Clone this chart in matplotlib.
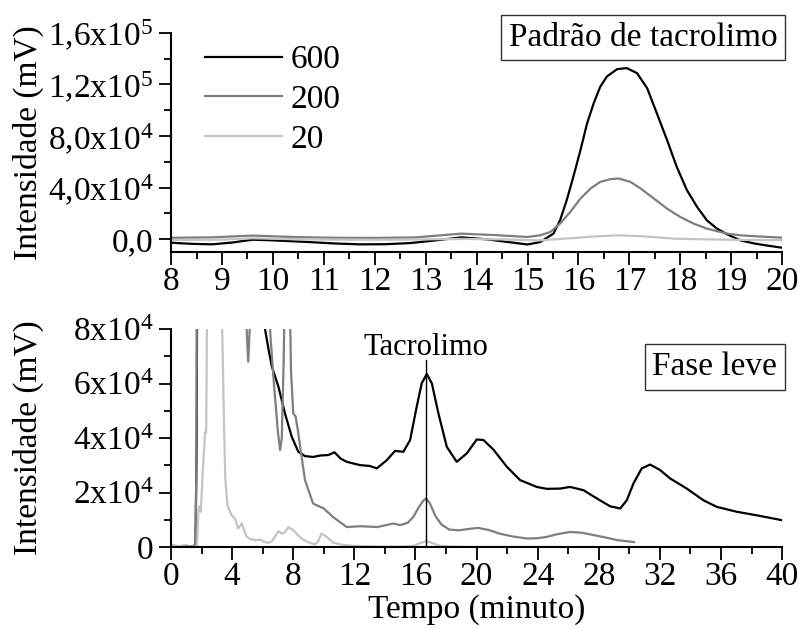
"""Chromatograms of tacrolimus: standard (top) and light phase (bottom)"""
import numpy as np
import matplotlib
matplotlib.use('Agg')
import matplotlib.pyplot as plt
from matplotlib.ticker import MultipleLocator

plt.rcParams['font.family'] = ['Liberation Serif', 'DejaVu Serif']
plt.rcParams['mathtext.default'] = 'regular'
plt.rcParams['font.size'] = 24

# --- top panel: standard (Padrão de tacrolimo), time in minutes, mV
std_t600 = [8, 8.4, 8.8, 9.2, 9.6, 10.0, 10.7, 11.2, 11.7, 12.2, 12.7, 13.2, 13.7,
            14.2, 14.7, 15.0, 15.25, 15.51, 15.64, 15.77, 15.9, 16.04, 16.17,
            16.3, 16.43, 16.56, 16.76, 16.95, 17.15, 17.35, 17.54, 17.74, 17.93,
            18.13, 18.33, 18.52, 18.72, 18.92, 19.18, 19.45, 19.7, 20]
std_y600 = [-2600, -3500, -3900, -2500, -300, -800, -2100, -3200, -3900, -3800,
            -2900, -800, 1500, 0, -2500, -4000, -2100, 4400, 14800, 30300, 48400,
            69100, 89800, 105400, 118300, 126100, 131800, 132600, 128700, 117000,
            97600, 76900, 56200, 38100, 25100, 14800, 8300, 3900, -800, -3200,
            -4800, -6500]
std_t200 = [8, 8.8, 9.6, 10.4, 11.2, 12.0, 12.8, 13.7, 14.4, 15.0, 15.25, 15.45,
            15.64, 15.84, 16.04, 16.24, 16.43, 16.63, 16.79, 17.02, 17.22, 17.48,
            17.74, 18.0, 18.26, 18.52, 18.92, 19.18, 19.5, 20]
std_y200 = [1200, 1500, 2900, 1800, 1200, 1100, 1500, 4400, 3200, 1800, 3100, 5700,
            12200, 21200, 31600, 39400, 44500, 46600, 47100, 44500, 39400, 31600,
            23800, 17300, 12200, 8300, 4400, 3100, 2300, 1300]
std_t20 = [8, 9, 9.6, 10.5, 11.5, 12.5, 13.7, 14.5, 15.25, 15.9, 16.3, 16.79, 17.3,
           17.87, 18.5, 19.3, 20]
std_y20 = [-500, -300, 800, 0, -300, -300, 300, -100, -800, 1000, 2200, 3100, 2300,
           500, 0, -500, -600]

# --- bottom panel: light phase (Fase leve)
lp_t600 = [0, 0.5, 1.0, 1.4, 1.6, 1.68, 1.72, 5.9, 6.15, 6.4, 6.6, 7.03, 7.46, 7.9,
           8.33, 8.77, 9.3, 9.75, 10.3, 10.7, 11.1, 11.5, 12.37, 13.0, 13.47,
           14.12, 14.66, 15.21, 15.65, 16.08, 16.41, 16.74, 17.07, 17.5, 18.05,
           18.7, 19.36, 20.01, 20.45, 21.1, 21.98, 22.85, 23.94, 24.6, 25.47, 26.12,
           27.0, 27.87, 28.74, 29.4, 29.83, 30.27, 30.81, 31.36, 32.01, 32.67,
           33.76, 34.85, 35.72, 37.03, 38.34, 40]
lp_y600 = [500, 400, 500, 300, 800, 40000, 120000, 120000, 80000, 72000, 66200,
           58800, 49000, 40500, 35000, 33400, 33100, 33600, 33800, 34800, 32500,
           31300, 30100, 29800, 28900, 31900, 35300, 35000, 39300, 51500, 60100,
           63500, 60100, 49100, 36800, 31300, 34400, 39500, 39300, 35800, 29500,
           24600, 22100, 21400, 21500, 22100, 20900, 17900, 15000, 14200, 17200,
           23400, 28900, 30300, 28300, 25200, 21500, 17200, 14800, 13000, 11700,
           9900]
lp_t200 = [0, 0.5, 1.0, 1.4, 1.6, 1.66, 1.7, 4.8, 4.95, 5.05, 5.15, 5.3, 6.3, 6.5,
           6.75, 7.0, 7.14, 7.25, 7.38, 7.5, 7.7, 7.85, 8.0, 8.15, 8.3, 8.45, 8.77,
           9.3, 10.0, 10.6, 11.5, 12.4, 13.5, 14.55, 15.0, 15.5, 15.86, 16.2, 16.5,
           16.7, 16.95, 17.3, 17.7, 18.2, 18.8, 19.5, 20.1, 20.8, 21.5, 22.4, 23.3,
           24.0, 24.6, 25.3, 26.1, 26.9, 27.7, 28.5, 29.2, 30.3]
lp_y200 = [500, 400, 300, 300, 800, 30000, 120000, 120000, 80000, 68000, 80000,
           120000, 120000, 78000, 58800, 42000, 35600, 40000, 70000, 120000,
           120000, 65000, 49000, 48000, 43000, 36800, 24600, 16000, 14200, 11100,
           7400, 7700, 7400, 8700, 8100, 9000, 11100, 14500, 17000, 17900, 16000,
           11500, 8300, 6500, 6200, 6700, 7100, 6300, 5000, 3900, 3200, 3300,
           3800, 4800, 5600, 5300, 4400, 3500, 2600, 1900]
lp_t20 = [0, 0.5, 1.0, 1.5, 1.7, 1.79, 1.85, 1.95, 2.1, 2.23, 2.3, 2.4, 3.25, 3.35,
          3.45, 3.55, 3.7, 3.97, 4.19, 4.3, 4.4, 4.63, 4.8, 4.95, 5.2, 5.5, 5.83,
          6.1, 6.37, 6.6, 6.8, 7.03, 7.25, 7.45, 7.68, 8.0, 8.3, 8.55, 8.9, 9.2,
          9.45, 9.65, 9.85, 10.2, 10.6, 11.2, 12.0, 13.0, 14.0, 15.0, 15.86, 16.3,
          16.7, 17.1, 17.6, 18.5, 20, 22, 24, 25.5]
lp_y20 = [500, 400, 300, 200, 500, 13600, 15000, 13000, 30000, 42300, 42000,
          120000, 120000, 80000, 50000, 25000, 15000, 11700, 10500, 8500, 6900,
          8700, 6000, 3800, 3000, 2600, 2800, 2000, 1600, 2200, 3800, 5900, 5000,
          5500, 7400, 6200, 4500, 3200, 2000, 1400, 1000, 2500, 5000, 3800, 1700,
          900, 500, 300, 200, 200, 500, 1500, 2300, 1500, 500, 200, 100, 100, 100,
          100]

labels = ['600', '200', '20']
colors = ['black', '#7f7f7f', '#c4c4c4']

std_yticks = [0, 4e4, 8e4, 1.2e5, 1.6e5]
std_ylabels = ['0,0', '4,0x10$^4$', '8,0x10$^4$', '1,2x10$^5$', '1,6x10$^5$']
lp_yticks = [0, 2e4, 4e4, 6e4, 8e4]
lp_ylabels = ['0', '2x10$^4$', '4x10$^4$', '6x10$^4$', '8x10$^4$']

tacro_time = 16.7
tacro_line_top = 68600

fig = plt.figure(figsize=(8.03, 6.29), dpi=100)
ax1 = fig.add_axes([0.213, 0.599, 0.761, 0.349])
ax2 = fig.add_axes([0.213, 0.130, 0.761, 0.347])


def style(ax):
    for s in ['top', 'right']:
        ax.spines[s].set_visible(False)
    for s in ['left', 'bottom']:
        ax.spines[s].set_linewidth(1.5)
    ax.tick_params(which='major', direction='out', length=9, width=1.3,
                   labelsize=24)
    ax.tick_params(which='minor', direction='out', length=5, width=1.3)
    ax.tick_params(axis='x', pad=1)
    ax.tick_params(axis='y', pad=4)


# top panel
for t, y, c, lab in zip([std_t600, std_t200, std_t20],
                        [std_y600, std_y200, std_y20], colors, labels):
    ax1.plot(t, y, color=c, lw=1.6, label=lab)
ax1.set_xlim(8, 20)
ax1.set_ylim(-1e4, 1.6e5)
ax1.xaxis.set_major_locator(MultipleLocator(1))
ax1.xaxis.set_minor_locator(MultipleLocator(0.5))
ax1.set_yticks(std_yticks, std_ylabels)
ax1.yaxis.set_minor_locator(MultipleLocator(2e4))
style(ax1)
ax1.set_ylabel('Intensidade (mV)', va='center')
ax1.yaxis.set_label_coords(-0.234, 0.5)
ax1.legend(loc='upper left', bbox_to_anchor=(0.056, 0.945), frameon=False,
           borderpad=0, borderaxespad=0, handlelength=2.3, handletextpad=0.25,
           labelspacing=0.28, fontsize=24)
ax1.text(0.7725, 0.977, 'Padrão de tacrolimo', transform=ax1.transAxes,
         ha='center', va='center', fontsize=24,
         bbox=dict(boxstyle='square,pad=0.22', fc='white', ec='#333333', lw=1))

# bottom panel
for t, y, c in zip([lp_t600, lp_t200, lp_t20], [lp_y600, lp_y200, lp_y20], colors):
    ax2.plot(t, y, color=c, lw=1.6)
ax2.set_xlim(0, 40)
ax2.set_ylim(0, 8e4)
ax2.xaxis.set_major_locator(MultipleLocator(4))
ax2.xaxis.set_minor_locator(MultipleLocator(2))
ax2.set_yticks(lp_yticks, lp_ylabels)
ax2.yaxis.set_minor_locator(MultipleLocator(1e4))
style(ax2)
ax2.set_ylabel('Intensidade (mV)', va='center')
ax2.yaxis.set_label_coords(-0.234, 0.5)
ax2.set_xlabel('Tempo (minuto)', labelpad=2)
ax2.plot([tacro_time, tacro_time], [0, tacro_line_top], color='black', lw=1)
ax2.text(tacro_time, 70500, 'Tacrolimo', ha='center', va='baseline', fontsize=22)
ax2.text(0.89, 0.826, 'Fase leve', transform=ax2.transAxes,
         ha='center', va='center', fontsize=24,
         bbox=dict(boxstyle='square,pad=0.22', fc='white', ec='#333333', lw=1))

fig.savefig('out.png', dpi=100)
